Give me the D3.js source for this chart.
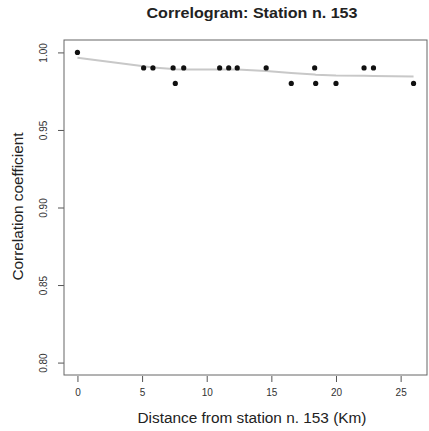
<!DOCTYPE html>
<html>
<head>
<meta charset="utf-8">
<script src="https://cdn.jsdelivr.net/npm/d3@7"></script>
<style>
  body { margin: 0; background: #fff; }
  text { font-family: "Liberation Sans", Arial, sans-serif; }
</style>
</head>
<body>
<div id="the_chart"></div>
<script>
// distances (Km) and correlation coefficients
var distance = [0, 5.12, 5.84, 7.40, 7.57, 8.22, 11.0, 11.7, 12.36, 14.6, 16.54, 18.35, 18.43, 20.0, 22.17, 22.9, 26.0];
var correlation = [1.00, 0.99, 0.99, 0.99, 0.98, 0.99, 0.99, 0.99, 0.99, 0.99, 0.98, 0.99, 0.98, 0.98, 0.99, 0.99, 0.98];
// smoothed (lowess) curve as drawn, at the same distances
var smooth = [0.9966, 0.9910, 0.9903, 0.9893, 0.9892, 0.9890, 0.9890, 0.9890, 0.9889, 0.9880, 0.9868, 0.9857, 0.9856, 0.9851, 0.9849, 0.9848, 0.9845];
var xticks = [0, 5, 10, 15, 20, 25];
var yticks = [0.80, 0.85, 0.90, 0.95, 1.00];

var w = 429, h = 431;
// plot box (note: 'top' is reserved on window, so use p_ names)
var p_left = 64, p_right = 427, p_top = 40, p_bottom = 375;

var svg = d3.select("#the_chart")
            .append("svg")
            .attr("width", w)
            .attr("height", h);

var xscale = d3.scaleLinear()
               .domain([-1.04, 27.04])
               .range([p_left, p_right]);
var yscale = d3.scaleLinear()
               .domain([0.792, 1.008])
               .range([p_bottom, p_top]);

// x axis, R style (ticks outside, below the box)
var xaxis = d3.axisBottom(xscale).tickValues(xticks).tickSize(6).tickPadding(7).tickFormat(d3.format('d'));
var gx = svg.append('g')
   .attr('transform', 'translate(0,' + (p_bottom + 1) + ')')
   .call(xaxis);
gx.select('.domain').remove();
gx.selectAll('line').attr('stroke', '#555');
gx.selectAll('text').attr('font-size', 10).attr('fill', '#333');

var yaxis = d3.axisLeft(yscale).tickValues(yticks).tickSize(6).tickFormat(d3.format('.2f'));
var gy = svg.append('g')
   .attr('transform', 'translate(' + p_left + ',0)')
   .call(yaxis);
gy.select('.domain').remove();
gy.selectAll('line').attr('stroke', '#555');
gy.selectAll('text')
  .attr('font-size', 10)
  .attr('fill', '#333')
  .attr('x', null).attr('dy', null)
  .attr('text-anchor', 'middle')
  .attr('transform', 'translate(-17,0) rotate(-90)');

// box
svg.append('rect')
   .attr('x', p_left).attr('y', p_top)
   .attr('width', p_right - p_left).attr('height', p_bottom - p_top)
   .attr('fill', 'none').attr('stroke', '#666').attr('stroke-width', 1);

// smooth line
var line = d3.line()
   .x(function(d, i) { return xscale(distance[i]); })
   .y(function(d) { return yscale(d); });
svg.append('path')
   .datum(smooth)
   .attr('d', line)
   .attr('fill', 'none')
   .attr('stroke', '#c8c8c8')
   .attr('stroke-width', 2);

// points
svg.selectAll('circle')
   .data(distance)
   .enter().append('circle')
   .attr('cx', function(d) { return xscale(d); })
   .attr('cy', function(d, i) { return yscale(correlation[i]); })
   .attr('r', 2.6)
   .attr('fill', '#111');

// titles
svg.append('text')
   .attr('x', 252).attr('y', 18)
   .attr('text-anchor', 'middle')
   .attr('font-size', 14).attr('font-weight', 'bold')
   .attr('fill', '#222')
   .attr('textLength', 211).attr('lengthAdjust', 'spacingAndGlyphs')
   .text('Correlogram: Station n. 153');

svg.append('text')
   .attr('x', 252).attr('y', 423)
   .attr('text-anchor', 'middle')
   .attr('font-size', 14).attr('fill', '#222')
   .attr('textLength', 229).attr('lengthAdjust', 'spacingAndGlyphs')
   .text('Distance from station n. 153 (Km)');

svg.append('text')
   .attr('transform', 'translate(23,' + ((p_top + p_bottom) / 2 - 1) + ') rotate(-90)')
   .attr('text-anchor', 'middle')
   .attr('font-size', 14).attr('fill', '#222')
   .attr('textLength', 148).attr('lengthAdjust', 'spacingAndGlyphs')
   .text('Correlation coefficient');
</script>
</body>
</html>
